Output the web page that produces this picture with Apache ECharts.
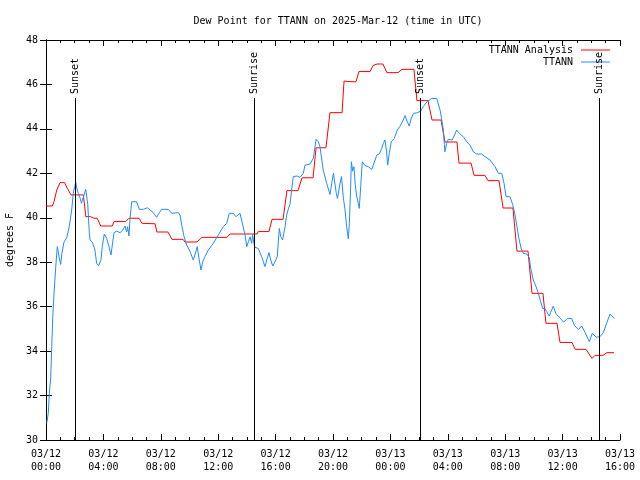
<!DOCTYPE html>
<html>
<head>
<meta charset="utf-8">
<script src="https://cdn.jsdelivr.net/npm/echarts@6/dist/echarts.min.js"></script>
<style>html,body{margin:0;padding:0;background:#fff}#c{width:640px;height:480px}</style>
</head>
<body>
<div id="c"></div>
<script>
// Hours since 2025-03-12 00:00 UTC
const analysisHours = [0.00,0.44,0.56,0.75,0.98,1.30,1.48,1.74,2.60,2.70,2.77,3.11,3.34,3.57,3.81,4.62,4.74,5.55,5.78,6.48,6.69,7.60,7.73,8.50,8.78,9.55,9.69,10.52,10.87,12.61,12.82,14.70,14.80,15.54,15.75,16.52,16.79,17.56,17.84,18.61,18.82,19.51,19.79,20.63,20.77,21.32,21.60,21.81,22.58,22.79,23.07,23.48,23.76,24.53,24.81,25.64,25.85,26.62,26.90,27.53,27.80,28.64,28.78,29.62,29.83,30.59,30.80,31.57,31.85,32.54,32.82,33.59,33.87,34.63,34.84,35.61,35.82,36.66,36.87,37.63,38.05,38.26,38.82,39.09,39.58];
const analysisDewF = [40.53,40.53,40.73,41.25,41.58,41.58,41.33,41.03,41.03,40.5,40.05,40.05,39.98,39.98,39.63,39.63,39.83,39.83,39.98,39.98,39.75,39.73,39.36,39.36,39.03,39.03,38.91,38.91,39.12,39.12,39.27,39.27,39.38,39.38,39.93,39.93,41.22,41.22,41.8,41.8,43.15,43.15,44.73,44.73,46.15,46.12,46.12,46.58,46.58,46.85,46.92,46.92,46.53,46.53,46.68,46.68,45.27,45.27,44.4,44.4,43.41,43.41,42.46,42.46,41.91,41.91,41.67,41.67,40.44,40.44,38.5,38.5,36.6,36.6,35.25,35.25,34.39,34.39,34.08,34.08,33.67,33.81,33.81,33.93,33.93];

const obsHours = [0.05,0.16,0.23,0.33,0.40,0.47,0.56,0.68,0.79,0.91,1.02,1.11,1.25,1.44,1.62,1.79,1.90,2.00,2.07,2.14,2.25,2.37,2.47,2.58,2.77,2.84,2.91,2.96,3.02,3.07,3.23,3.41,3.53,3.66,3.76,3.83,3.92,4.06,4.23,4.39,4.53,4.65,4.74,4.93,5.16,5.35,5.51,5.62,5.69,5.78,5.85,5.97,6.32,6.50,6.78,7.06,7.25,7.48,7.71,7.90,8.06,8.52,8.76,9.22,9.34,9.46,9.62,9.80,10.03,10.26,10.38,10.54,10.68,10.80,10.92,11.08,11.31,11.66,12.01,12.36,12.59,12.77,13.05,13.24,13.52,13.71,13.87,13.99,14.10,14.22,14.33,14.40,14.49,14.56,14.79,15.03,15.26,15.38,15.54,15.66,15.80,15.96,16.12,16.19,16.26,16.36,16.49,16.66,16.77,16.89,17.00,17.12,17.23,17.47,17.70,17.93,18.05,18.40,18.63,18.75,18.82,18.98,19.09,19.32,19.56,19.79,19.91,20.03,20.23,20.31,20.49,20.59,20.72,20.84,20.95,21.07,21.14,21.22,21.28,21.37,21.46,21.55,21.65,21.76,21.83,21.93,22.04,22.23,22.46,22.70,22.81,23.05,23.24,23.39,23.51,23.62,23.73,23.81,23.92,24.06,24.27,24.48,24.67,24.90,25.02,25.16,25.31,25.44,25.60,25.83,26.11,26.29,26.55,26.88,27.23,27.35,27.48,27.58,27.69,27.76,27.80,27.92,28.03,28.31,28.62,28.80,29.08,29.32,29.55,29.78,30.01,30.36,30.59,30.94,31.29,31.52,31.76,31.92,32.06,32.15,32.33,32.52,32.68,32.82,32.96,33.12,33.26,33.50,33.68,33.78,33.96,34.15,34.31,34.47,34.61,34.77,34.89,35.07,35.17,35.35,35.56,35.82,36.07,36.33,36.63,36.83,37.10,37.33,37.56,37.86,38.07,38.35,38.61,38.84,39.07,39.30,39.42,39.60];
const obsDewF = [30.75,31.2,32.1,32.8,34.2,35.5,36.6,37.8,38.7,38.25,37.9,38.4,38.9,39.1,39.6,40.35,41.1,41.4,41.6,41.35,41.1,40.9,40.65,40.7,41.28,41.3,40.6,40.0,39.3,39.0,38.9,38.55,37.95,37.85,37.83,38.1,38.7,39.27,39.07,38.7,38.33,38.92,39.33,39.4,39.33,39.45,39.63,39.37,39.6,39.18,39.9,40.72,40.72,40.38,40.38,40.45,40.35,40.23,40.02,40.23,40.38,40.38,40.2,40.23,40.12,39.67,39.15,38.78,38.5,38.1,38.33,38.7,38.1,37.65,38.02,38.25,38.55,38.85,39.23,39.6,39.75,40.2,40.2,40.05,40.2,39.67,39.23,38.7,38.92,39.15,38.85,39.23,38.85,38.67,38.62,38.25,37.8,38.1,38.43,38.1,37.83,38.02,38.25,38.92,39.52,39.15,39.0,39.6,40.12,40.4,40.6,41.25,41.85,41.88,41.82,42.0,42.37,42.42,42.68,43.2,43.53,43.42,43.2,42.15,41.55,41.05,41.55,42.0,41.1,40.87,41.55,41.85,40.9,40.35,39.6,39.05,39.75,41.2,42.52,42.1,42.3,41.5,40.98,40.65,40.42,41.4,42.52,42.35,42.3,42.18,42.37,42.82,42.88,43.12,43.35,43.5,43.0,42.37,42.9,43.42,43.57,43.95,44.12,44.4,44.6,44.35,44.13,44.45,44.7,44.72,44.8,45.0,45.22,45.37,45.37,45.45,44.8,44.4,43.95,43.3,42.97,43.35,43.53,43.5,43.95,43.8,43.65,43.42,43.27,42.97,42.87,42.87,42.75,42.6,42.3,42.0,42.0,41.55,40.95,40.87,40.95,40.6,40.15,39.6,39.05,38.6,38.4,38.37,38.2,37.72,37.2,36.9,36.6,36.22,35.92,35.92,35.78,35.58,35.75,36.02,35.65,35.5,35.3,35.47,35.47,35.15,34.97,35.13,34.85,34.42,34.8,34.63,34.65,34.83,35.25,35.67,35.62,35.47];

const sunHours = [2.04, 14.52, 26.11, 38.56];
const sunLabels = ['Sunset', 'Sunrise', 'Sunset', 'Sunrise'];

const seriesNames = ['TTANN Analysis', 'TTANN'];
const FONT = 'DejaVu Sans Mono';

const zip = (xs, ys) => xs.map((x, i) => [x, ys[i]]);

const sunLines = [];
sunHours.forEach((h, i) => {
  sunLines.push([{ coord: [h, 30] }, { coord: [h, 45.39] }]);
  sunLines.push([
    { coord: [h, 45.39], lineStyle: { color: 'rgba(0,0,0,0)', width: 0 },
      label: { show: true, position: 'insideStart', formatter: sunLabels[i], distance: [4, 0],
               fontFamily: FONT, fontSize: 10, color: '#000' } },
    { coord: [h, 47.95] }
  ]);
});

function xLabel(h) {
  const day = 12 + Math.floor(h / 24);
  const hh = h % 24;
  return '03/' + day + '\n' + String(hh).padStart(2, '0') + ':00';
}

const chart = echarts.init(document.getElementById('c'), null, { renderer: 'canvas' });
const axisCommon = {
  axisLine: { show: true, lineStyle: { color: '#000', width: 1 } },
  splitLine: { show: false }
};
chart.setOption({
  animation: false,
  backgroundColor: '#fff',
  textStyle: { fontFamily: FONT, color: '#000' },
  title: {
    text: 'Dew Point for TTANN on 2025-Mar-12 (time in UTC)',
    left: 333, textAlign: 'center', top: 11,
    textStyle: { fontFamily: FONT, fontSize: 10, fontWeight: 'normal', color: '#000' }
  },
  legend: {
    data: [{ name: seriesNames[0], icon: 'rect' }, { name: seriesNames[1], icon: 'rect' }],
    orient: 'vertical', align: 'right',
    right: 25, top: 39,
    itemWidth: 29, itemHeight: 1, itemGap: 0,
    textStyle: { fontFamily: FONT, fontSize: 10, color: '#000', padding: [0, 3, 0, 0], lineHeight: 12 }
  },
  grid: { left: 46, right: 20, top: 40, bottom: 40, containLabel: false, outerBoundsMode: 'none' },
  xAxis: [
    Object.assign({
      type: 'value', min: 0, max: 40, interval: 4, position: 'bottom',
      axisTick: { show: true, inside: true, length: 6, lineStyle: { color: '#000' } },
      minorTick: { show: true, splitNumber: 4, length: 3, lineStyle: { color: '#000' } },
      axisLabel: { formatter: xLabel, fontFamily: FONT, fontSize: 10, color: '#000', margin: 8, lineHeight: 13 }
    }, axisCommon),
    Object.assign({
      type: 'value', min: 0, max: 40, interval: 4, position: 'top',
      axisTick: { show: true, inside: true, length: 6, lineStyle: { color: '#000' } },
      minorTick: { show: true, splitNumber: 4, length: 3, lineStyle: { color: '#000' } },
      axisLabel: { show: false }
    }, axisCommon)
  ],
  yAxis: [
    Object.assign({
      type: 'value', min: 30, max: 48, interval: 2, position: 'left',
      name: 'degrees F', nameLocation: 'middle', nameGap: 31, nameRotate: 90,
      nameTextStyle: { fontFamily: FONT, fontSize: 10, color: '#000' },
      axisTick: { show: true, inside: true, length: 6, lineStyle: { color: '#000' } },
      axisLabel: { fontFamily: FONT, fontSize: 10, color: '#000', margin: 8 }
    }, axisCommon),
    Object.assign({
      type: 'value', min: 30, max: 48, interval: 2, position: 'right',
      axisTick: { show: true, inside: true, length: 6, lineStyle: { color: '#000' } },
      axisLabel: { show: false }
    }, axisCommon)
  ],
  series: [
    {
      name: 'sun', type: 'line', data: [], silent: true,
      markLine: {
        silent: true, symbol: ['none', 'none'], animation: false,
        label: { show: false },
        lineStyle: { color: '#000', width: 1, type: 'solid' },
        emphasis: { disabled: true },
        data: sunLines
      }
    },
    {
      name: seriesNames[0], type: 'line', data: zip(analysisHours, analysisDewF),
      showSymbol: false, symbol: 'none', color: '#ff0000',
      lineStyle: { color: '#ff0000', width: 1 }
    },
    {
      name: seriesNames[1], type: 'line', data: zip(obsHours, obsDewF),
      showSymbol: false, symbol: 'none', color: '#1e8cff',
      lineStyle: { color: '#1e8cff', width: 1 }
    }
  ]
});
</script>
</body>
</html>
